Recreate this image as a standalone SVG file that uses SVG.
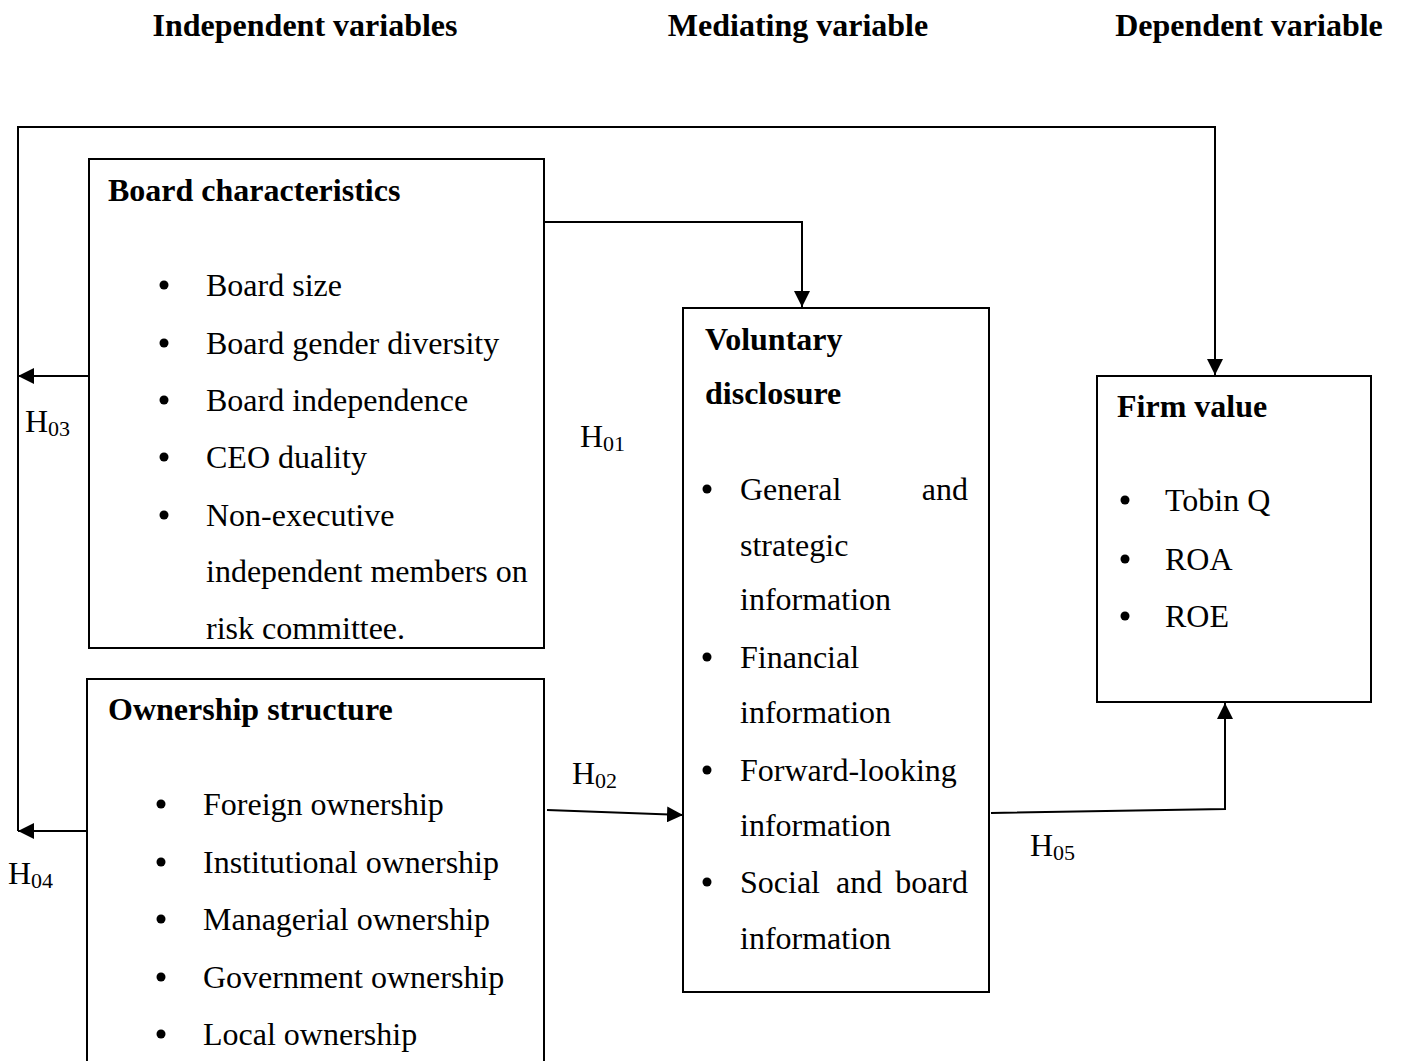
<svg xmlns="http://www.w3.org/2000/svg" width="1401" height="1061" viewBox="0 0 1401 1061">
<style>
text{font-family:"Liberation Serif","Times New Roman",serif;font-size:32px;fill:#000}
.b{font-weight:bold}
.h{font-size:32px}
.box{fill:#fff;stroke:#000;stroke-width:2}
.ln{fill:none;stroke:#000;stroke-width:2}
.sub{font-size:22px}
</style>
<defs>
<marker id="ah" viewBox="0 0 16 16" refX="16" refY="8" markerWidth="16" markerHeight="16" markerUnits="userSpaceOnUse" orient="auto">
<path d="M0,0 L16,8 L0,16 Z" fill="#000"/>
</marker>
</defs>
<g id="headers">
<text class="b h" x="305" y="36" text-anchor="middle">Independent variables</text>
<text class="b h" x="798" y="36" text-anchor="middle">Mediating variable</text>
<text class="b h" x="1249" y="36" text-anchor="middle">Dependent variable</text>
</g>
<g id="connectors">
<polyline class="ln" points="18,831 18,127 1215,127 1215,375" marker-end="url(#ah)"/>
<line class="ln" x1="91" y1="376" x2="18" y2="376" marker-end="url(#ah)"/>
<line class="ln" x1="86" y1="831" x2="18" y2="831" marker-end="url(#ah)"/>
<polyline class="ln" points="544,222 802,222 802,307" marker-end="url(#ah)"/>
<line class="ln" x1="547" y1="810" x2="683" y2="815" marker-end="url(#ah)"/>
<polyline class="ln" points="991,813 1225,809 1225,703" marker-end="url(#ah)"/>
</g>
<g id="board">
<rect class="box" x="89" y="159" width="455" height="489"/>
<text class="b" x="108" y="201">Board characteristics</text>
<g>
<circle cx="164" cy="285" r="4.5"/><text x="206" y="296">Board size</text>
<circle cx="164" cy="343" r="4.5"/><text x="206" y="354">Board gender diversity</text>
<circle cx="164" cy="400" r="4.5"/><text x="206" y="411">Board independence</text>
<circle cx="164" cy="457" r="4.5"/><text x="206" y="468">CEO duality</text>
<circle cx="164" cy="515" r="4.5"/><text x="206" y="526">Non-executive</text>
<text x="206" y="582">independent members on</text>
<text x="206" y="639">risk committee.</text>
</g>
</g>
<g id="ownership">
<rect class="box" x="87" y="679" width="457" height="420"/>
<text class="b" x="108" y="720">Ownership structure</text>
<circle cx="161" cy="804" r="4.5"/><text x="203" y="815">Foreign ownership</text>
<circle cx="161" cy="862" r="4.5"/><text x="203" y="873">Institutional ownership</text>
<circle cx="161" cy="919" r="4.5"/><text x="203" y="930">Managerial ownership</text>
<circle cx="161" cy="977" r="4.5"/><text x="203" y="988">Government ownership</text>
<circle cx="161" cy="1034" r="4.5"/><text x="203" y="1045">Local ownership</text>
</g>
<g id="voluntary">
<rect class="box" x="683" y="308" width="306" height="684"/>
<text class="b" x="705" y="350">Voluntary</text>
<text class="b" x="705" y="404">disclosure</text>
<circle cx="707" cy="489" r="4.5"/><text x="740" y="500">General</text><text x="968" y="500" text-anchor="end">and</text>
<text x="740" y="556">strategic</text>
<text x="740" y="610">information</text>
<circle cx="707" cy="657" r="4.5"/><text x="740" y="668">Financial</text>
<text x="740" y="723">information</text>
<circle cx="707" cy="770" r="4.5"/><text x="740" y="781">Forward-looking</text>
<text x="740" y="836">information</text>
<circle cx="707" cy="882" r="4.5"/><text x="740" y="893">Social</text><text x="836" y="893">and</text><text x="968" y="893" text-anchor="end">board</text>
<text x="740" y="949">information</text>
</g>
<g id="firm">
<rect class="box" x="1097" y="376" width="274" height="326"/>
<text class="b" x="1117" y="417">Firm value</text>
<circle cx="1125" cy="500" r="4.5"/><text x="1165" y="511">Tobin Q</text>
<circle cx="1125" cy="559" r="4.5"/><text x="1165" y="570">ROA</text>
<circle cx="1125" cy="616" r="4.5"/><text x="1165" y="627">ROE</text>
</g>
<g id="labels">
<text x="25" y="432" class="h">H<tspan class="sub" dy="4">03</tspan></text>
<text x="580" y="447" class="h">H<tspan class="sub" dy="4">01</tspan></text>
<text x="572" y="784" class="h">H<tspan class="sub" dy="4">02</tspan></text>
<text x="8" y="884" class="h">H<tspan class="sub" dy="4">04</tspan></text>
<text x="1030" y="856" class="h">H<tspan class="sub" dy="4">05</tspan></text>
</g>
</svg>
